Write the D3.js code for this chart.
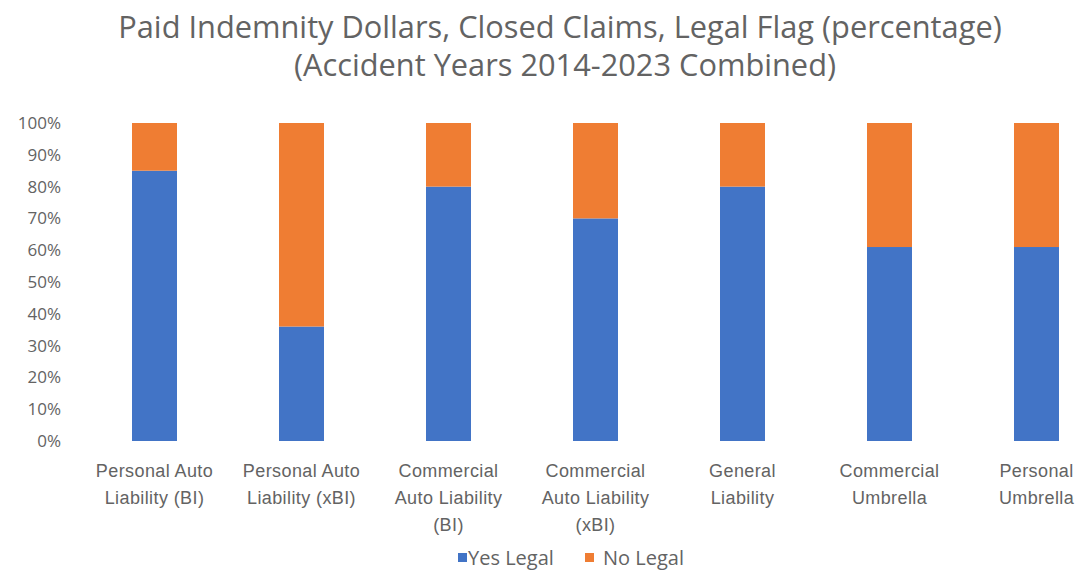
<!DOCTYPE html>
<html>
<head>
<meta charset="utf-8">
<script src="https://cdn.jsdelivr.net/npm/d3@7"></script>
<style>
  html, body { margin: 0; padding: 0; background: #fff; }
  svg { display: block; font-family: "Open Sans", "Noto Sans", sans-serif; }
</style>
</head>
<body>
<svg id="chart" width="1087" height="573"></svg>
<script>
// Lines of business, each split into the lines shown under its bar
const categories = [
  ["Personal Auto", "Liability (BI)"],
  ["Personal Auto", "Liability (xBI)"],
  ["Commercial", "Auto Liability", "(BI)"],
  ["Commercial", "Auto Liability", "(xBI)"],
  ["General", "Liability"],
  ["Commercial", "Umbrella"],
  ["Personal", "Umbrella"]
];
// Share of paid indemnity dollars with and without a legal flag
const yesLegal = [0.85, 0.36, 0.80, 0.70, 0.80, 0.61, 0.61];
const noLegal  = [0.15, 0.64, 0.20, 0.30, 0.20, 0.39, 0.39];
const seriesNames = ["Yes Legal", "No Legal"];
const yTicks = [0, 0.1, 0.2, 0.3, 0.4, 0.5, 0.6, 0.7, 0.8, 0.9, 1.0];
const titleLines = [
  "Paid Indemnity Dollars, Closed Claims, Legal Flag (percentage)",
  "(Accident Years 2014-2023 Combined)"
];

const colors = ["#4274c6", "#ef7d33"];
const textColor = "#636363";

const svg = d3.select("#chart");

const x = d3.scaleBand()
  .domain(d3.range(categories.length))
  .range([81, 1110])
  .paddingInner(0.694)
  .paddingOuter(0.347);

const y = d3.scaleLinear().domain([0, 1]).range([441, 123]);

// Stack the two series
const rows = categories.map((c, i) => ({ i, yes: yesLegal[i], no: noLegal[i] }));
const stack = d3.stack().keys(["yes", "no"])(rows);

svg.append("g").selectAll("g")
  .data(stack)
  .join("g")
  .attr("fill", (d, k) => colors[k])
  .selectAll("rect")
  .data(d => d)
  .join("rect")
  .attr("x", d => x(d.data.i))
  .attr("width", x.bandwidth())
  .attr("y", d => y(d[1]))
  .attr("height", d => y(d[0]) - y(d[1]));

// Y axis: labels only
const yAxis = d3.axisLeft(y)
  .tickValues(yTicks)
  .tickFormat(d3.format(".0%"))
  .tickSize(0)
  .tickPadding(0);
const yg = svg.append("g").attr("transform", "translate(61,0)").call(yAxis);
yg.select(".domain").remove();
yg.selectAll("text")
  .attr("fill", textColor)
  .style("font-size", "17px")
  .style("font-family", "'Open Sans', sans-serif");

// X axis category labels, wrapped into lines
const xAxis = d3.axisBottom(x).tickSize(0).tickFormat("");
const xg = svg.append("g").attr("transform", "translate(0,441)").call(xAxis);
xg.select(".domain").remove();
xg.selectAll(".tick").each(function (i) {
  const t = d3.select(this).append("text")
    .attr("fill", textColor)
    .attr("text-anchor", "middle")
    .style("font-size", "18px")
    .style("letter-spacing", "0.4px");
  categories[i].forEach((line, j) => {
    t.append("tspan").attr("x", 0).attr("y", 36 + j * 27).text(line);
  });
});

// Title, sized so the first line spans the header width
const title = svg.append("g").attr("fill", textColor);
const t1 = title.append("text").attr("text-anchor", "middle")
  .attr("x", 560).attr("y", 38).style("font-size", "26px").text(titleLines[0]);
const w = t1.node().getComputedTextLength();
const fs = 26 * 884 / w;
t1.style("font-size", fs + "px");
title.append("text").attr("text-anchor", "middle")
  .attr("x", 565).attr("y", 76).style("font-size", fs + "px").text(titleLines[1]);

// Legend
const legend = svg.append("g").attr("transform", "translate(0,558)");
const items = legend.selectAll("g").data(seriesNames).join("g")
  .attr("transform", (d, k) => `translate(${[458, 585][k]},0)`);
items.append("rect").attr("x", 0).attr("y", -5).attr("width", 9).attr("height", 9)
  .attr("fill", (d, k) => colors[k]);
items.append("text").attr("x", [10, 18][0]).attr("y", 7)
  .attr("dx", (d, k) => [0, 8][k])
  .attr("fill", textColor).style("font-size", "20px").text(d => d);
</script>
</body>
</html>
